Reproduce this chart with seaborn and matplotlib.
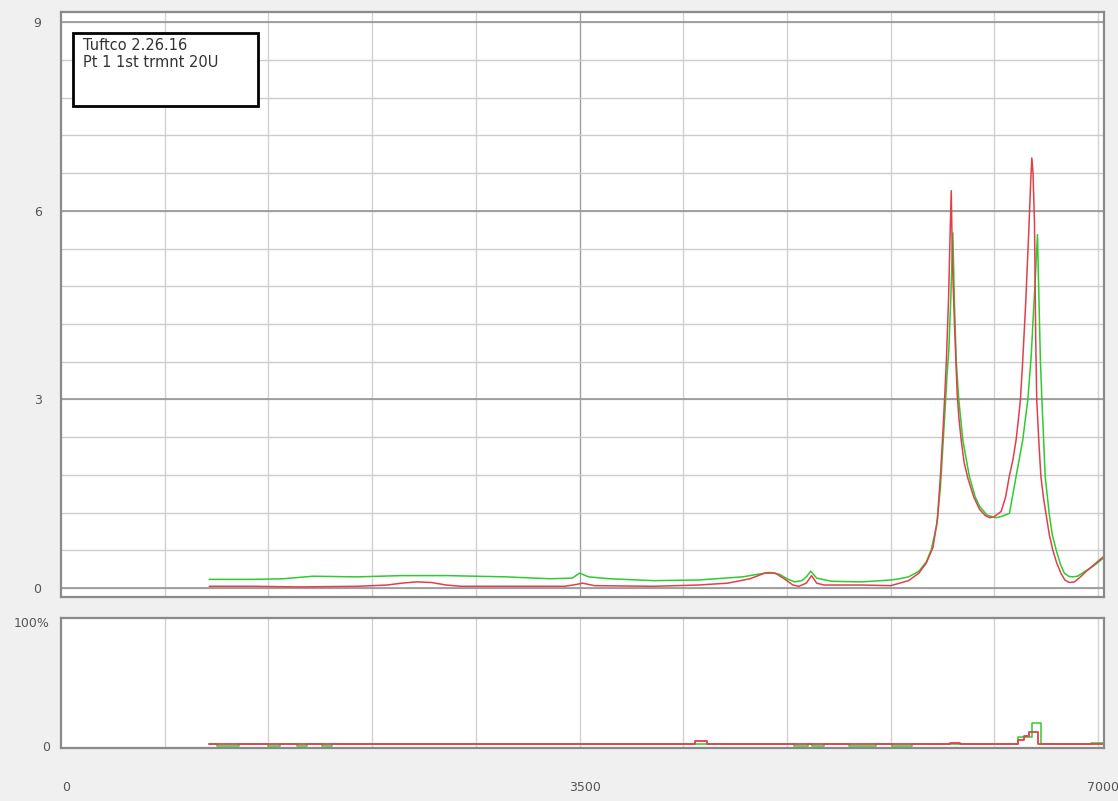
import numpy as np
import matplotlib
matplotlib.use("Agg")
import matplotlib.pyplot as plt
import matplotlib.patches as patches
import matplotlib.transforms as mtransforms
import seaborn as sns

# top panel - red trace
red_x = [1000, 1300, 1600, 2000, 2200, 2300, 2400, 2500, 2600, 2700, 3000, 3400, 3480, 3520, 3600,
         4000, 4300, 4500, 4650, 4750, 4820, 4880, 4940, 4980, 5030, 5065, 5100, 5150, 5400, 5600,
         5660, 5720, 5790, 5840, 5885, 5915, 5935, 5950, 5963, 5975, 5990, 6000, 6008, 6016, 6030,
         6048, 6060, 6075, 6095, 6120, 6160, 6200, 6240, 6270, 6300, 6345, 6375, 6400, 6425, 6446,
         6462, 6475, 6490, 6510, 6530, 6545, 6552, 6560, 6570, 6578, 6585, 6600, 6613, 6630, 6647,
         6670, 6693, 6720, 6748, 6775, 6805, 6840, 6880, 6920, 6960, 7000, 7035]
red_y = [0.03, 0.03, 0.02, 0.03, 0.05, 0.08, 0.10, 0.09, 0.05, 0.03, 0.03, 0.03, 0.06, 0.08, 0.04,
         0.03, 0.05, 0.08, 0.15, 0.24, 0.24, 0.15, 0.05, 0.03, 0.08, 0.20, 0.08, 0.05, 0.05, 0.04,
         0.08, 0.12, 0.24, 0.40, 0.65, 1.10, 1.78, 2.40, 3.00, 3.60, 4.60, 5.60, 6.32, 5.20, 4.20,
         3.10, 2.70, 2.36, 2.00, 1.75, 1.45, 1.25, 1.15, 1.12, 1.14, 1.22, 1.45, 1.78, 2.05, 2.36,
         2.70, 3.00, 3.60, 4.50, 5.60, 6.50, 6.84, 6.60, 5.80, 4.00, 3.00, 2.30, 1.78, 1.45, 1.19,
         0.85, 0.61, 0.40, 0.24, 0.13, 0.09, 0.10, 0.18, 0.27, 0.35, 0.43, 0.50]

# top panel - green trace
green_x = [1000, 1300, 1500, 1700, 2000, 2300, 2600, 3000, 3300, 3450, 3500, 3560, 3700, 4000, 4300,
           4600, 4700, 4780, 4850, 4900, 4950, 5000, 5030, 5060, 5100, 5200, 5400, 5600, 5660, 5720,
           5790, 5840, 5873, 5910, 5935, 5963, 5980, 5992, 6005, 6019, 6030, 6042, 6059, 6086, 6130,
           6170, 6200, 6250, 6311, 6360, 6401, 6446, 6491, 6525, 6548, 6560, 6575, 6590, 6600, 6610,
           6620, 6642, 6669, 6690, 6716, 6745, 6771, 6800, 6825, 6860, 6900, 6960, 7000, 7035]
green_y = [0.14, 0.14, 0.15, 0.19, 0.18, 0.20, 0.20, 0.18, 0.15, 0.16, 0.24, 0.18, 0.15, 0.12, 0.13,
           0.18, 0.22, 0.25, 0.22, 0.15, 0.10, 0.12, 0.18, 0.27, 0.16, 0.11, 0.10, 0.13, 0.15, 0.18,
           0.27, 0.42, 0.61, 1.00, 1.60, 2.70, 3.40, 3.80, 4.60, 5.65, 4.50, 3.60, 3.00, 2.36, 1.78,
           1.45, 1.30, 1.16, 1.12, 1.15, 1.19, 1.78, 2.36, 3.00, 3.70, 4.25, 4.90, 5.62, 4.60, 3.60,
           3.00, 1.78, 1.19, 0.85, 0.61, 0.38, 0.24, 0.19, 0.18, 0.19, 0.25, 0.34, 0.41, 0.48]

# bottom panel (percent), step traces
red_pct_x = [1000, 4280, 4360, 6000, 6070, 6460, 6500, 6530, 6595, 7035]
red_pct_y = [1.3, 4.3, 1.3, 2.5, 1.3, 5.0, 8.0, 11.0, 1.5, 1.5]
green_pct_x = [1000, 1050, 1200, 1400, 1480, 1590, 1660, 1760, 1830, 4950, 5040, 5070, 5150,
               5320, 5500, 5610, 5740, 6460, 6556, 6616, 6700, 6950, 7035]
green_pct_y = [1.3, 0.2, 1.3, 0.2, 1.3, 0.2, 1.3, 0.2, 1.3, 0.2, 1.3, 0.2, 1.3,
               0.2, 1.3, 0.2, 1.3, 7.0, 18.8, 1.5, 1.3, 2.0, 2.0]

sns.set_style("white")
plt.rcParams['font.family'] = ['DejaVu Sans']

RED = "#e0404c"
GREEN = "#2ecc2e"
BG = "#f0f0f0"

fig = plt.figure(figsize=(11.18, 8.01), dpi=100, facecolor=BG)
ax = fig.add_axes([0.0546, 0.2547, 0.933, 0.7303])
ax2 = fig.add_axes([0.0546, 0.0662, 0.933, 0.1623])

for a in (ax, ax2):
    a.set_facecolor("white")
    a.set_xlim(0, 7040)
    for s in a.spines.values():
        s.set_color("#8a8a8a")
        s.set_linewidth(1.6)
    for xv in np.arange(700, 7001, 700):
        c = "#a0a0a0" if (xv == 3500 and a is ax) else "#d2d2d2"
        a.axvline(xv, color=c, lw=1.0, zorder=0)

# horizontal grid, top panel
for yv in np.arange(0, 9.01, 0.6):
    ax.axhline(yv, color="#cccccc", lw=1.0, zorder=0)
for yv in [0, 3, 6, 9]:
    ax.axhline(yv, color="#959595", lw=1.2, zorder=0)

sns.lineplot(x=green_x, y=green_y, ax=ax, color=GREEN, lw=1.1)
sns.lineplot(x=red_x, y=red_y, ax=ax, color=RED, lw=1.1)
ax.set_ylim(-0.14, 9.16)
ax.set_yticks([0, 3, 6, 9])
ax.set_yticklabels(["0", "3", "6", "9"])
ax.set_xticks([])
ax.tick_params(axis="y", length=0, pad=14, labelsize=9, labelcolor="#555555")

sns.lineplot(x=green_pct_x, y=green_pct_y, ax=ax2, color=GREEN, lw=1.1, drawstyle="steps-post")
sns.lineplot(x=red_pct_x, y=red_pct_y, ax=ax2, color=RED, lw=1.3, drawstyle="steps-post")
ax2.set_ylim(-1.6, 103)
ax2.set_yticks([0, 100])
ax2.set_yticklabels(["0", "100%"])
ax2.set_xticks([0, 3500, 7000])
ax2.set_xticklabels(["0", "3500", "7000"])
ax2.tick_params(axis="y", length=0, pad=8, labelsize=9, labelcolor="#555555")
ax2.tick_params(axis="x", length=0, pad=24, labelsize=9, labelcolor="#555555")
shift = mtransforms.ScaledTranslation(5 / 100, 0, fig.dpi_scale_trans)
for lab in ax2.get_xticklabels():
    lab.set_transform(lab.get_transform() + shift)

# annotation box
box = patches.Rectangle((0.0653, 0.8677), 0.1655, 0.0911, transform=fig.transFigure,
                        facecolor="white", edgecolor="black", lw=2, zorder=5)
fig.patches.append(box)
fig.text(0.0742, 0.952, "Tuftco 2.26.16\nPt 1 1st trmnt 20U", fontsize=10.5, color="#333333",
         va="top", ha="left", linespacing=1.1, zorder=6)

plt.savefig("out.png", dpi=100, facecolor=BG)
